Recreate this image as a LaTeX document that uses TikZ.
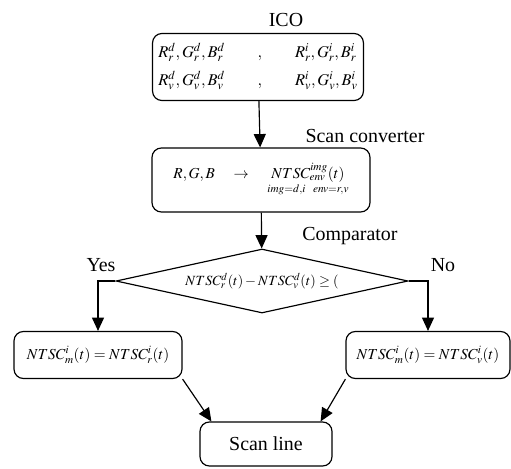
\documentclass[tikz,border=0pt]{standalone}
\usepackage{mathptmx}
\usepackage{fontspec}
\setmainfont{Liberation Serif}
\usepackage{tikz}
\usetikzlibrary{shapes,arrows,positioning,calc,arrows.meta}

\tikzset{
    box/.style={draw, line width=1pt, rounded corners=8pt, inner sep=0pt},
    lbl/.style={font=\fontsize{17}{20}\selectfont},
    mth/.style={font=\fontsize{13}{15}\selectfont},
    arr/.style={line width=1pt, -{Triangle[length=0.4cm,width=0.36cm]}}
}

\begin{document}
\begin{tikzpicture}[x=0.03cm, y=-0.03cm]
    \useasboundingbox (0,0) rectangle (511,468);

    % ICO
    \node[lbl] (icolbl) at (286,20) {ICO};
    \node[box, font=\fontsize{14}{16}\selectfont, minimum width=5.52cm, minimum height=2.01cm] (ico) at (258,67)
        {$\begin{array}{l@{\qquad}c@{\qquad}l}
            R^d_r,G^d_r,B^d_r & , & R^i_r,G^i_r,B^i_r\\[7pt]
            R^d_v,G^d_v,B^d_v & , & R^i_v,G^i_v,B^i_v
          \end{array}$};

    % Scan converter
    \node[lbl] (convlbl) at (365,136) {Scan converter};
    \node[box, mth, minimum width=6.54cm, minimum height=1.92cm] (conv) at (261,180)
        {$R,G,B \quad\rightarrow\quad \mathop{NTSC^{img}_{env}(t)}\limits_{img=d,i\;\;\; env=r,v}$};

    % Comparator
    \node[lbl] (cmplbl) at (350,236) {Comparator};
    \node[draw, diamond, line width=1pt, inner sep=0pt, aspect=4.5,
          minimum width=8.76cm, minimum height=1.92cm,
          font=\fontsize{12}{14}\selectfont] (cmp) at (262,281)
        {$NTSC^d_r(t) - NTSC^d_v(t) \geq ($};
    \node[lbl] (yes) at (101,265) {Yes};
    \node[lbl] (no) at (443,265) {No};

    % results
    \node[box, mth, minimum width=5.04cm, minimum height=1.41cm] (yesbox) at (98,355)
        {$NTSC^i_m(t) = NTSC^i_r(t)$};
    \node[box, mth, minimum width=4.92cm, minimum height=1.41cm] (nobox) at (428,355)
        {$NTSC^i_m(t) = NTSC^i_v(t)$};

    % Scan line
    \node[box, lbl, minimum width=3.96cm, minimum height=1.32cm] (sline) at (266,444) {Scan line};

    % connectors
    \draw[arr] (ico) -- (conv);
    \draw[arr] (conv) -- (cmp);
    \draw[arr] (cmp.west) -| (yesbox.north);
    \draw[arr] (cmp.east) -| (nobox.north);
    \draw[arr] (yesbox.south east) -- ($(sline.north west)+(12,0)$);
    \draw[arr] (nobox.south west) -- ($(sline.north east)+(-12,0)$);
\end{tikzpicture}
\end{document}
